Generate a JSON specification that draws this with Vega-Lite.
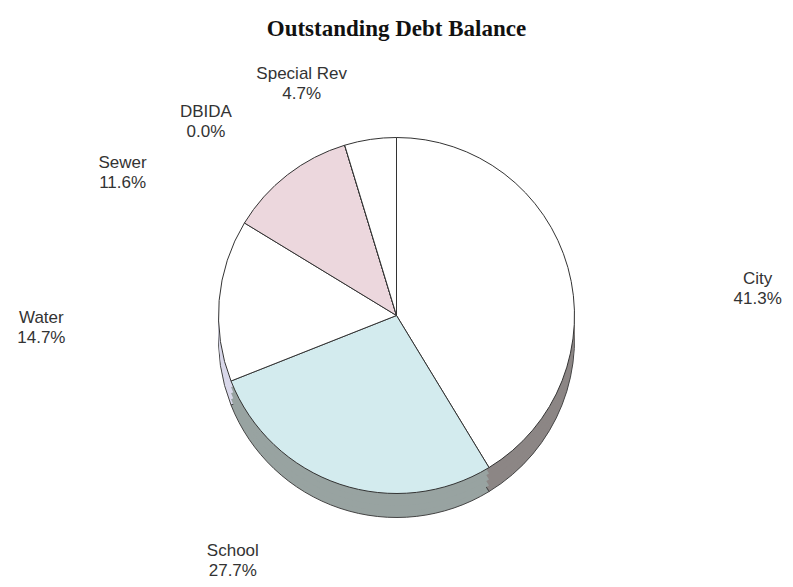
{
  "$schema": "https://vega.github.io/schema/vega-lite/v6.json",
  "autosize": {"type": "fit", "contains": "padding"},
  "width": 793,
  "height": 587,
  "padding": {"top": 18, "left": 5, "right": 5, "bottom": 5},
  "background": "white",
  "title": {"text": "Outstanding Debt Balance", "font": "Liberation Serif", "fontSize": 23, "fontWeight": "bold", "color": "#111", "offset": 8},
  "data": {"values": [
    {"idx": 1, "name": "City", "pct": 41.3, "label": "City\n41.3%"},
    {"idx": 2, "name": "School", "pct": 27.7, "label": "School\n27.7%"},
    {"idx": 3, "name": "Water", "pct": 14.7, "label": "Water\n14.7%"},
    {"idx": 4, "name": "Sewer", "pct": 11.6, "label": "Sewer\n11.6%"},
    {"idx": 5, "name": "DBIDA", "pct": 0.0, "label": "DBIDA\n0.0%"},
    {"idx": 6, "name": "Special Rev", "pct": 4.7, "label": "Special Rev\n4.7%"}
  ]},
  "encoding": {
    "theta": {"field": "pct", "type": "quantitative", "stack": true},
    "order": {"field": "idx", "type": "quantitative"}
  },
  "layer": [
    {
      "mark": {"type": "arc", "outerRadius": 178, "yOffset": 24, "stroke": "#444", "strokeWidth": 1},
      "encoding": {"fill": {"field": "name", "type": "nominal", "legend": null,
        "scale": {"domain": ["City", "School", "Water", "Sewer", "DBIDA", "Special Rev"], "range": ["#8c8685", "#98a3a1", "#d9d8ea", "#b9a8ad", "#aaaaaa", "#bbbbbb"]}}}
    },
    {
      "mark": {"type": "arc", "outerRadius": 178, "yOffset": 18},
      "encoding": {"fill": {"field": "name", "type": "nominal", "legend": null,
        "scale": {"domain": ["City", "School", "Water", "Sewer", "DBIDA", "Special Rev"], "range": ["#8c8685", "#98a3a1", "#d9d8ea", "#b9a8ad", "#aaaaaa", "#bbbbbb"]}}}
    },
    {
      "mark": {"type": "arc", "outerRadius": 178, "yOffset": 12},
      "encoding": {"fill": {"field": "name", "type": "nominal", "legend": null,
        "scale": {"domain": ["City", "School", "Water", "Sewer", "DBIDA", "Special Rev"], "range": ["#8c8685", "#98a3a1", "#d9d8ea", "#b9a8ad", "#aaaaaa", "#bbbbbb"]}}}
    },
    {
      "mark": {"type": "arc", "outerRadius": 178, "yOffset": 6},
      "encoding": {"fill": {"field": "name", "type": "nominal", "legend": null,
        "scale": {"domain": ["City", "School", "Water", "Sewer", "DBIDA", "Special Rev"], "range": ["#8c8685", "#98a3a1", "#d9d8ea", "#b9a8ad", "#aaaaaa", "#bbbbbb"]}}}
    },
    {
      "mark": {"type": "arc", "outerRadius": 178, "stroke": "#333", "strokeWidth": 1},
      "encoding": {"color": {"field": "name", "type": "nominal", "legend": null,
        "scale": {"domain": ["City", "School", "Water", "Sewer", "DBIDA", "Special Rev"], "range": ["#ffffff", "#d3ebee", "#ffffff", "#ecd7dd", "#ffffff", "#ffffff"]}}}
    },
    {
      "mark": {"type": "text", "radius": 238, "xOffset": 132, "yOffset": 28, "font": "Liberation Sans", "fontSize": 17, "color": "#333", "lineBreak": "\n", "align": "center", "baseline": "middle", "lineHeight": 20},
      "encoding": {"text": {"condition": {"test": "datum.name == 'City'", "field": "label"}, "value": ""}}
    },
    {
      "mark": {"type": "text", "radius": 238, "xOffset": -88, "yOffset": 10, "font": "Liberation Sans", "fontSize": 17, "color": "#333", "lineBreak": "\n", "align": "center", "baseline": "middle", "lineHeight": 20},
      "encoding": {"text": {"condition": {"test": "datum.name == 'School'", "field": "label"}, "value": ""}}
    },
    {
      "mark": {"type": "text", "radius": 238, "xOffset": -118, "yOffset": 23, "font": "Liberation Sans", "fontSize": 17, "color": "#333", "lineBreak": "\n", "align": "center", "baseline": "middle", "lineHeight": 20},
      "encoding": {"text": {"condition": {"test": "datum.name == 'Water'", "field": "label"}, "value": ""}}
    },
    {
      "mark": {"type": "text", "radius": 238, "xOffset": -128, "yOffset": 36, "font": "Liberation Sans", "fontSize": 17, "color": "#333", "lineBreak": "\n", "align": "center", "baseline": "middle", "lineHeight": 20},
      "encoding": {"text": {"condition": {"test": "datum.name == 'Sewer'", "field": "label"}, "value": ""}}
    },
    {
      "mark": {"type": "text", "radius": 250, "xOffset": -58, "yOffset": 6, "font": "Liberation Sans", "fontSize": 17, "color": "#333", "lineBreak": "\n", "align": "center", "baseline": "middle", "lineHeight": 20},
      "encoding": {"text": {"condition": {"test": "datum.name == 'Special Rev'", "field": "label"}, "value": ""}}
    },
    {
      "mark": {"type": "text", "radius": 215, "xOffset": -128, "yOffset": 2, "font": "Liberation Sans", "fontSize": 17, "color": "#333", "lineBreak": "\n", "align": "center", "baseline": "middle", "lineHeight": 20},
      "encoding": {"text": {"condition": {"test": "datum.name == 'DBIDA'", "field": "label"}, "value": ""}}
    }
  ],
  "resolve": {"scale": {"fill": "independent", "color": "independent"}},
  "config": {"view": {"stroke": null}}
}
